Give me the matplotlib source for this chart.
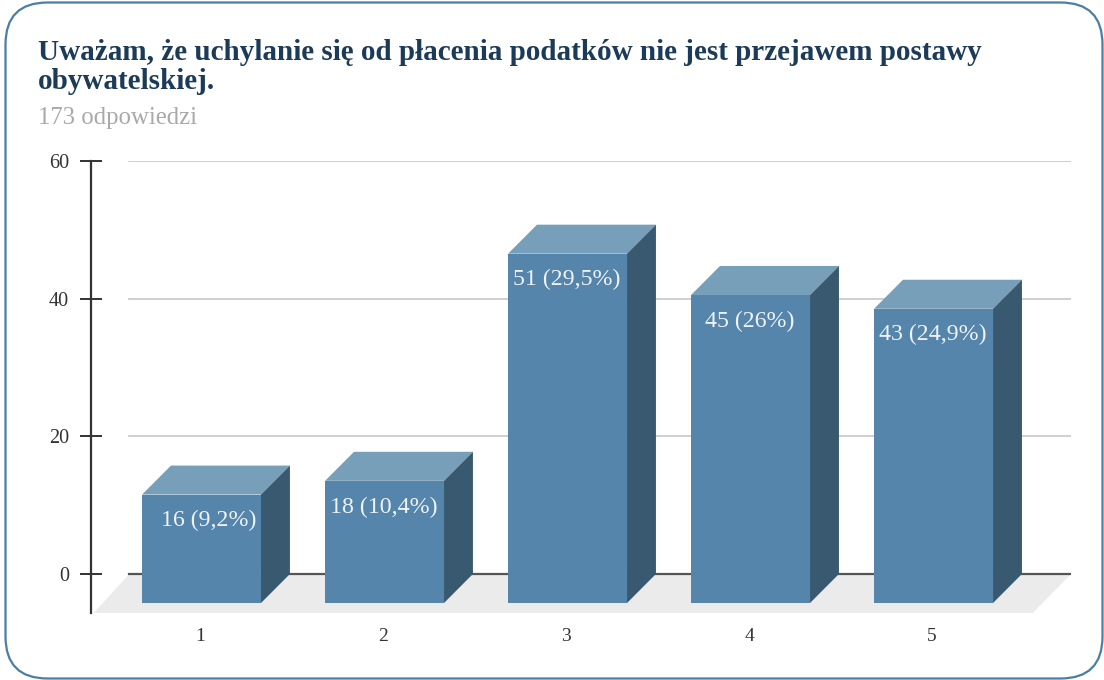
import matplotlib
matplotlib.use("Agg")
from matplotlib import pyplot as plt
from matplotlib.patches import FancyBboxPatch, Polygon

categories = [1, 2, 3, 4, 5]
values = [16, 18, 51, 45, 43]
labels = ["16 (9,2%)", "18 (10,4%)", "51 (29,5%)", "45 (26%)", "43 (24,9%)"]
yticks = [0, 20, 40, 60]
title = "Uważam, że uchylanie się od płacenia podatków nie jest przejawem postawy\nobywatelskiej."
subtitle = "173 odpowiedzi"

W, H = 1104, 680
plt.rcParams["font.family"] = ["Liberation Serif", "DejaVu Serif"]

fig = plt.figure(figsize=(W / 100, H / 100), dpi=100)

# rounded frame
frame = FancyBboxPatch((5.5, 1.5), 1097, 676, boxstyle="round,pad=0,rounding_size=42",
                       transform=None, facecolor="white", edgecolor="#4a7ea3", linewidth=1.6, zorder=-1)
fig.add_artist(frame)

fig.text(38 / W, 1 - 67 / H, title, fontsize=21.0, fontweight="bold", color="#1c3b58",
         va="center", ha="left", linespacing=1.14)
fig.text(38 / W, 1 - 118 / H, subtitle, fontsize=17.8, color="#a9a9a9", va="center", ha="left")

# axes box in pixels: y axis at 91, top at 161, bottom at 613
ax = fig.add_axes([91 / W, 1 - 613 / H, 980 / W, 452 / H])
ax.patch.set_alpha(0)
ax.set_xlim(0.396, 5.751)
ax.set_ylim(-5.67, 60)

depth_x = 0.158
depth_y = 4.215
bar_w = 0.65
floor_x = 0.209  # where the back wall starts, right of the y axis
top_drop = 0.25  # the 3d tops sit a little under the gridline value in the original

# floor
ax.add_patch(Polygon([(ax.get_xlim()[0] + floor_x, 0), (ax.get_xlim()[1], 0),
                      (ax.get_xlim()[1] - floor_x, -5.67), (ax.get_xlim()[0] + 0.015, -5.67)],
                     closed=True, facecolor="#ebebeb", edgecolor="none", zorder=1))

# grid lines
for t in yticks:
    if t == 0:
        ax.plot([ax.get_xlim()[0] + floor_x, ax.get_xlim()[1]], [t, t], color="#555555", lw=1.6, zorder=2)
    else:
        ax.plot([ax.get_xlim()[0] + floor_x, ax.get_xlim()[1]], [t, t], color="#cccccc", lw=1.3, zorder=2)

# the bars: front from ax.bar, top and side polygons on the same scale
for x, v, lab in zip(categories, values, labels):
    left = x - bar_w / 2
    right = x + bar_w / 2
    top = v - top_drop
    ax.bar(x, top, width=bar_w, bottom=-depth_y, color="#5585ab", zorder=3)
    ax.add_patch(Polygon([(left, top - depth_y), (right, top - depth_y),
                          (right + depth_x, top), (left + depth_x, top)],
                         closed=True, facecolor="#789fb9", edgecolor="none", zorder=3))
    ax.add_patch(Polygon([(right, -depth_y), (right + depth_x, 0),
                          (right + depth_x, top), (right, top - depth_y)],
                         closed=True, facecolor="#38596f", edgecolor="none", zorder=3))
    lx = x + 0.04 if x == 1 else x - 0.007
    ax.text(lx, top - depth_y - 3.8, lab, color="#eef3f7", fontsize=17.2, ha="center", va="center", zorder=4)

for s in ["top", "right", "bottom"]:
    ax.spines[s].set_visible(False)
ax.spines["left"].set_color("#333333")
ax.spines["left"].set_linewidth(1.6)

ax.set_yticks(yticks)
ax.set_xticks([c - 0.008 for c in categories], [str(c) for c in categories])
ax.tick_params(axis="y", direction="inout", length=16, width=1.4, color="#333333",
               labelcolor="#333333", labelsize=14.5, pad=8)
ax.tick_params(axis="x", length=0, labelcolor="#333333", labelsize=14, pad=11)

fig.savefig("out.png", dpi=100)
